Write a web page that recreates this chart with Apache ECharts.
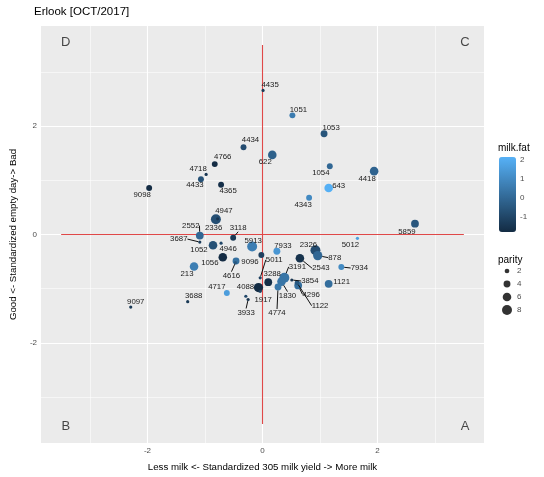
<!DOCTYPE html>
<html>
<head>
<meta charset="utf-8">
<script src="https://cdn.jsdelivr.net/npm/echarts@6/dist/echarts.min.js"></script>
<style>html,body{margin:0;padding:0;background:#fff}#c{width:544px;height:477px}</style>
</head>
<body>
<div id="c"></div>
<script>
// ---- data ----
const ids = ['4435','1051','1053','4434','622','4766','4718','4433','4365','9098','1054','4418','643','4343','4947','2336','2552','3687','3118','1052','4946','5913','1056','9096','4616','213','','5011','7933','2326','878','2543','3191','1830','5012','5859','7934','3288','4088','1917','3933','','4774','3854','4296','1122','1121','4717','3688','9097'];
const milkYield = [0.01,0.52,1.07,-0.33,0.17,-0.83,-0.98,-1.07,-0.72,-1.97,1.17,1.94,1.15,0.81,-0.81,-0.78,-1.09,-1.09,-0.51,-0.86,-0.72,-0.18,-0.69,-0.46,-0.47,-1.19,-0.02,-0.04,0.25,0.92,0.96,0.65,0.38,0.33,1.65,2.65,1.37,0.10,-0.07,-0.04,-0.25,-0.29,0.27,0.51,0.62,0.60,1.15,-0.62,-1.30,-2.29];
const emptyDay = [2.66,2.20,1.86,1.61,1.47,1.30,1.11,1.02,0.92,0.86,1.26,1.17,0.86,0.68,0.28,0.29,-0.02,-0.14,-0.06,-0.20,-0.16,-0.22,-0.42,-0.49,-0.52,-0.59,-0.38,-0.80,-0.31,-0.29,-0.39,-0.44,-0.80,-0.87,-0.07,0.20,-0.60,-0.88,-0.98,-1.05,-1.20,-1.14,-0.97,-0.84,-0.94,-0.89,-0.91,-1.08,-1.24,-1.34];
const milkFat = [-1.4,0.55,-0.6,-0.84,-0.24,-1.8,-1.5,-0.7,-1.7,-1.8,-0.05,-0.16,2.1,0.95,-0.75,-1.5,-0.05,-1.3,-1.4,-0.7,-1.0,0.63,-1.8,0.23,-0.5,0.63,-1.2,-1.2,1.35,-0.84,-0.05,-1.6,0.35,0.35,1.6,-0.55,1.0,-1.75,-1.83,-1.2,-1.6,-1.0,0.47,-1.5,0.15,-0.5,0.15,1.55,-1.4,-1.4];
const parity = [1,3,4,3,6,3,1,3,3,3,3,6,6,3,8,1,5,1,3,6,1,8,6,4,1,6,3,1,4,8,7,6,8,6,1,5,3,5,7,1,1,1,4,1,5,2,5,3,1,1];

const xTicks = [-2,0,2];
const xMinor = [-3,-1,1,3];
const yTicks = [-2,0,2];
const yMinor = [-3,-1,1,3];
const fatTicks = [-1,0,1,2];
const parityLegend = ['2','4','6','8'];
const quadLetters = ['D','C','B','A'];
const quadX = [-3.42,3.52,-3.42,3.52];
const quadY = [3.55,3.55,-3.55,-3.55];
const refVertical = [[0,-3.5],[0,3.5]];
const refHorizontal = [[-3.5,0],[3.5,0]];

// ---- layout only: label offsets in px (dx, dy, segment) ----
const labelOffsets = {
 '4435':[7,-6],'1051':[6,-6],'1053':[7,-6],'4434':[7,-7],'622':[-7,7],'4766':[8,-7],'4718':[-8,-6],
 '4433':[-6,6],'4365':[7,6],'9098':[-7,7],'1054':[-9,7],'4418':[-7,8],'643':[10,-2],'4343':[-6,7],
 '4947':[8,-8],'2336':[-4,9],'2552':[-9,-10,1],'3687':[-21,-3,1],'3118':[5,-10,1],'1052':[-14,5],
 '4946':[7,6],'5913':[1,-6],'1056':[-13,6],'9096':[14,1],'4616':[-4,13,1],'213':[-7,7],
 '5011':[14,-18,1],'7933':[6,-5],'2326':[-7,-5],'878':[17,2,1],'2543':[21,10,1],'3191':[13,-11,1],
 '1830':[6,14,1],'5012':[-7,7],'5859':[-8,8],'7934':[18,1,1],'3288':[4,-8],'4088':[-13,-1],
 '1917':[3,8],'3933':[-2,13,1],'4774':[-1,26,1],'3854':[18,1,1],'4296':[13,9,1],'1122':[23,23,1],
 '1121':[13,-2],'4717':[-10,-6],'3688':[6,-6],'9097':[5,-5]
};

const FONT = '"Liberation Sans", Arial, sans-serif';
const sizeOf = p => -0.5 + 3.7 * Math.sqrt(p);

const points = ids.map((id, i) => {
  const o = labelOffsets[id];
  const item = { name: id, value: [milkYield[i], emptyDay[i], milkFat[i], parity[i]] };
  if (!id) item.label = { show: false };
  if (o && o[2]) item.labelLine = { show: true };
  return item;
});

const chart = echarts.init(document.getElementById('c'), null, { renderer: 'canvas' });
chart.setOption({
  animation: false,
  backgroundColor: '#ffffff',
  textStyle: { fontFamily: FONT },
  title: [
    { text: 'Erlook [OCT/2017]', left: 34, top: 6, padding: 0, textStyle: { fontSize: 11.5, fontWeight: 'normal', color: '#000', fontFamily: FONT } },
    { text: 'milk.fat', left: 498, top: 143, padding: 0, textStyle: { fontSize: 10, fontWeight: 'normal', color: '#000', fontFamily: FONT } },
    { text: 'parity', left: 498, top: 255, padding: 0, textStyle: { fontSize: 10, fontWeight: 'normal', color: '#000', fontFamily: FONT } }
  ],
  grid: [
    { left: 35, top: 26, width: 449, height: 418, show: true, backgroundColor: '#EBEBEB', borderWidth: 0 },
    { left: 499, top: 157, width: 17, height: 75, show: false },
    { left: 500, top: 264.5, width: 14, height: 52, show: false }
  ],
  xAxis: [
    { gridIndex: 0, type: 'value', min: -3.85, max: 3.85,
      name: 'Less milk <- Standardized 305 milk yield -> More milk', nameLocation: 'middle', nameGap: 19,
      nameTextStyle: { fontSize: 9.7, color: '#000', fontFamily: FONT },
      axisLine: { show: false }, splitLine: { show: false },
      axisTick: { show: true, customValues: xTicks, length: 3, lineStyle: { color: '#333' } },
      axisLabel: { customValues: xTicks, fontSize: 8, color: '#4d4d4d', margin: 4, fontFamily: FONT } },
    { gridIndex: 1, type: 'value', show: false, min: 0, max: 1 },
    { gridIndex: 2, type: 'value', show: false, min: -1, max: 1 }
  ],
  yAxis: [
    { gridIndex: 0, type: 'value', min: -3.85, max: 3.85,
      name: 'Good <- Standardized empty day-> Bad', nameLocation: 'middle', nameGap: 23, nameRotate: 90,
      nameTextStyle: { fontSize: 9.7, color: '#000', fontFamily: FONT },
      axisLine: { show: false }, splitLine: { show: false },
      axisTick: { show: true, customValues: yTicks, length: 3, lineStyle: { color: '#333' } },
      axisLabel: { customValues: yTicks, fontSize: 8, color: '#4d4d4d', margin: 4, fontFamily: FONT } },
    { gridIndex: 1, type: 'value', min: -1.83, max: 2.14, position: 'right',
      axisLine: { show: false }, splitLine: { show: false },
      axisTick: { show: true, inside: true, length: 3, customValues: fatTicks, lineStyle: { color: '#fff', width: 1 } },
      axisLabel: { customValues: fatTicks, fontSize: 8, color: '#4d4d4d', margin: 4, fontFamily: FONT } },
    { gridIndex: 2, type: 'category', data: parityLegend, inverse: true, position: 'right',
      axisLine: { show: false }, axisTick: { show: false }, splitLine: { show: false },
      axisLabel: { fontSize: 8, color: '#4d4d4d', margin: 3, fontFamily: FONT } }
  ],
  visualMap: [{
    type: 'continuous', min: -1.83, max: 2.14, dimension: 2, seriesIndex: 3,
    left: 499, top: 157, itemWidth: 17, itemHeight: 75, padding: 0,
    calculable: false, hoverLink: false, text: null,
    inRange: { color: ['#132B43', '#56B1F7'] }
  }],
  series: [
    { // background grid lines
      type: 'scatter', xAxisIndex: 0, yAxisIndex: 0, data: [], silent: true, z: 1,
      markLine: {
        z: 1, silent: true, symbol: ['none', 'none'], label: { show: false }, animation: false,
        data: [].concat(
          xMinor.map(v => ({ xAxis: v, lineStyle: { color: '#fff', width: 0.55, type: 'solid' } })),
          yMinor.map(v => ({ yAxis: v, lineStyle: { color: '#fff', width: 0.55, type: 'solid' } })),
          xTicks.map(v => ({ xAxis: v, lineStyle: { color: '#fff', width: 1.1, type: 'solid' } })),
          yTicks.map(v => ({ yAxis: v, lineStyle: { color: '#fff', width: 1.1, type: 'solid' } }))
        )
      }
    },
    { type: 'line', xAxisIndex: 0, yAxisIndex: 0, data: refVertical, symbol: 'none', silent: true, z: 3,
      lineStyle: { color: '#E04848', width: 1.1 } },
    { type: 'line', xAxisIndex: 0, yAxisIndex: 0, data: refHorizontal, symbol: 'none', silent: true, z: 3,
      lineStyle: { color: '#E04848', width: 1.1 } },
    { type: 'scatter', xAxisIndex: 0, yAxisIndex: 0, data: points, z: 4,
      symbolSize: v => sizeOf(v[3]),
      itemStyle: { opacity: 1 },
      label: { show: true, formatter: p => p.name, fontSize: 7.8, color: '#1a1a1a', fontFamily: FONT, position: 'inside' },
      labelLine: { show: false, showAbove: true, lineStyle: { color: '#111', width: 1 } },
      labelLayout: function (p) {
        const o = labelOffsets[ids[p.dataIndex]];
        if (!o) return {};
        return { x: p.rect.x + p.rect.width / 2 + o[0], y: p.rect.y + p.rect.height / 2 + o[1], align: 'center', verticalAlign: 'middle' };
      },
      emphasis: { disabled: true }
    },
    { type: 'scatter', xAxisIndex: 0, yAxisIndex: 0, silent: true, z: 5, symbolSize: 0,
      data: quadLetters.map((t, i) => ({ name: t, value: [quadX[i], quadY[i]] })),
      label: { show: true, position: 'inside', formatter: p => p.name, fontSize: 13, color: '#1a1a1a', fontFamily: FONT } },
    { type: 'scatter', xAxisIndex: 2, yAxisIndex: 2, silent: true, z: 5,
      data: parityLegend.map(p => [0, p]),
      symbolSize: v => sizeOf(+v[1]),
      itemStyle: { color: '#000' } }
  ]
});
</script>
</body>
</html>
